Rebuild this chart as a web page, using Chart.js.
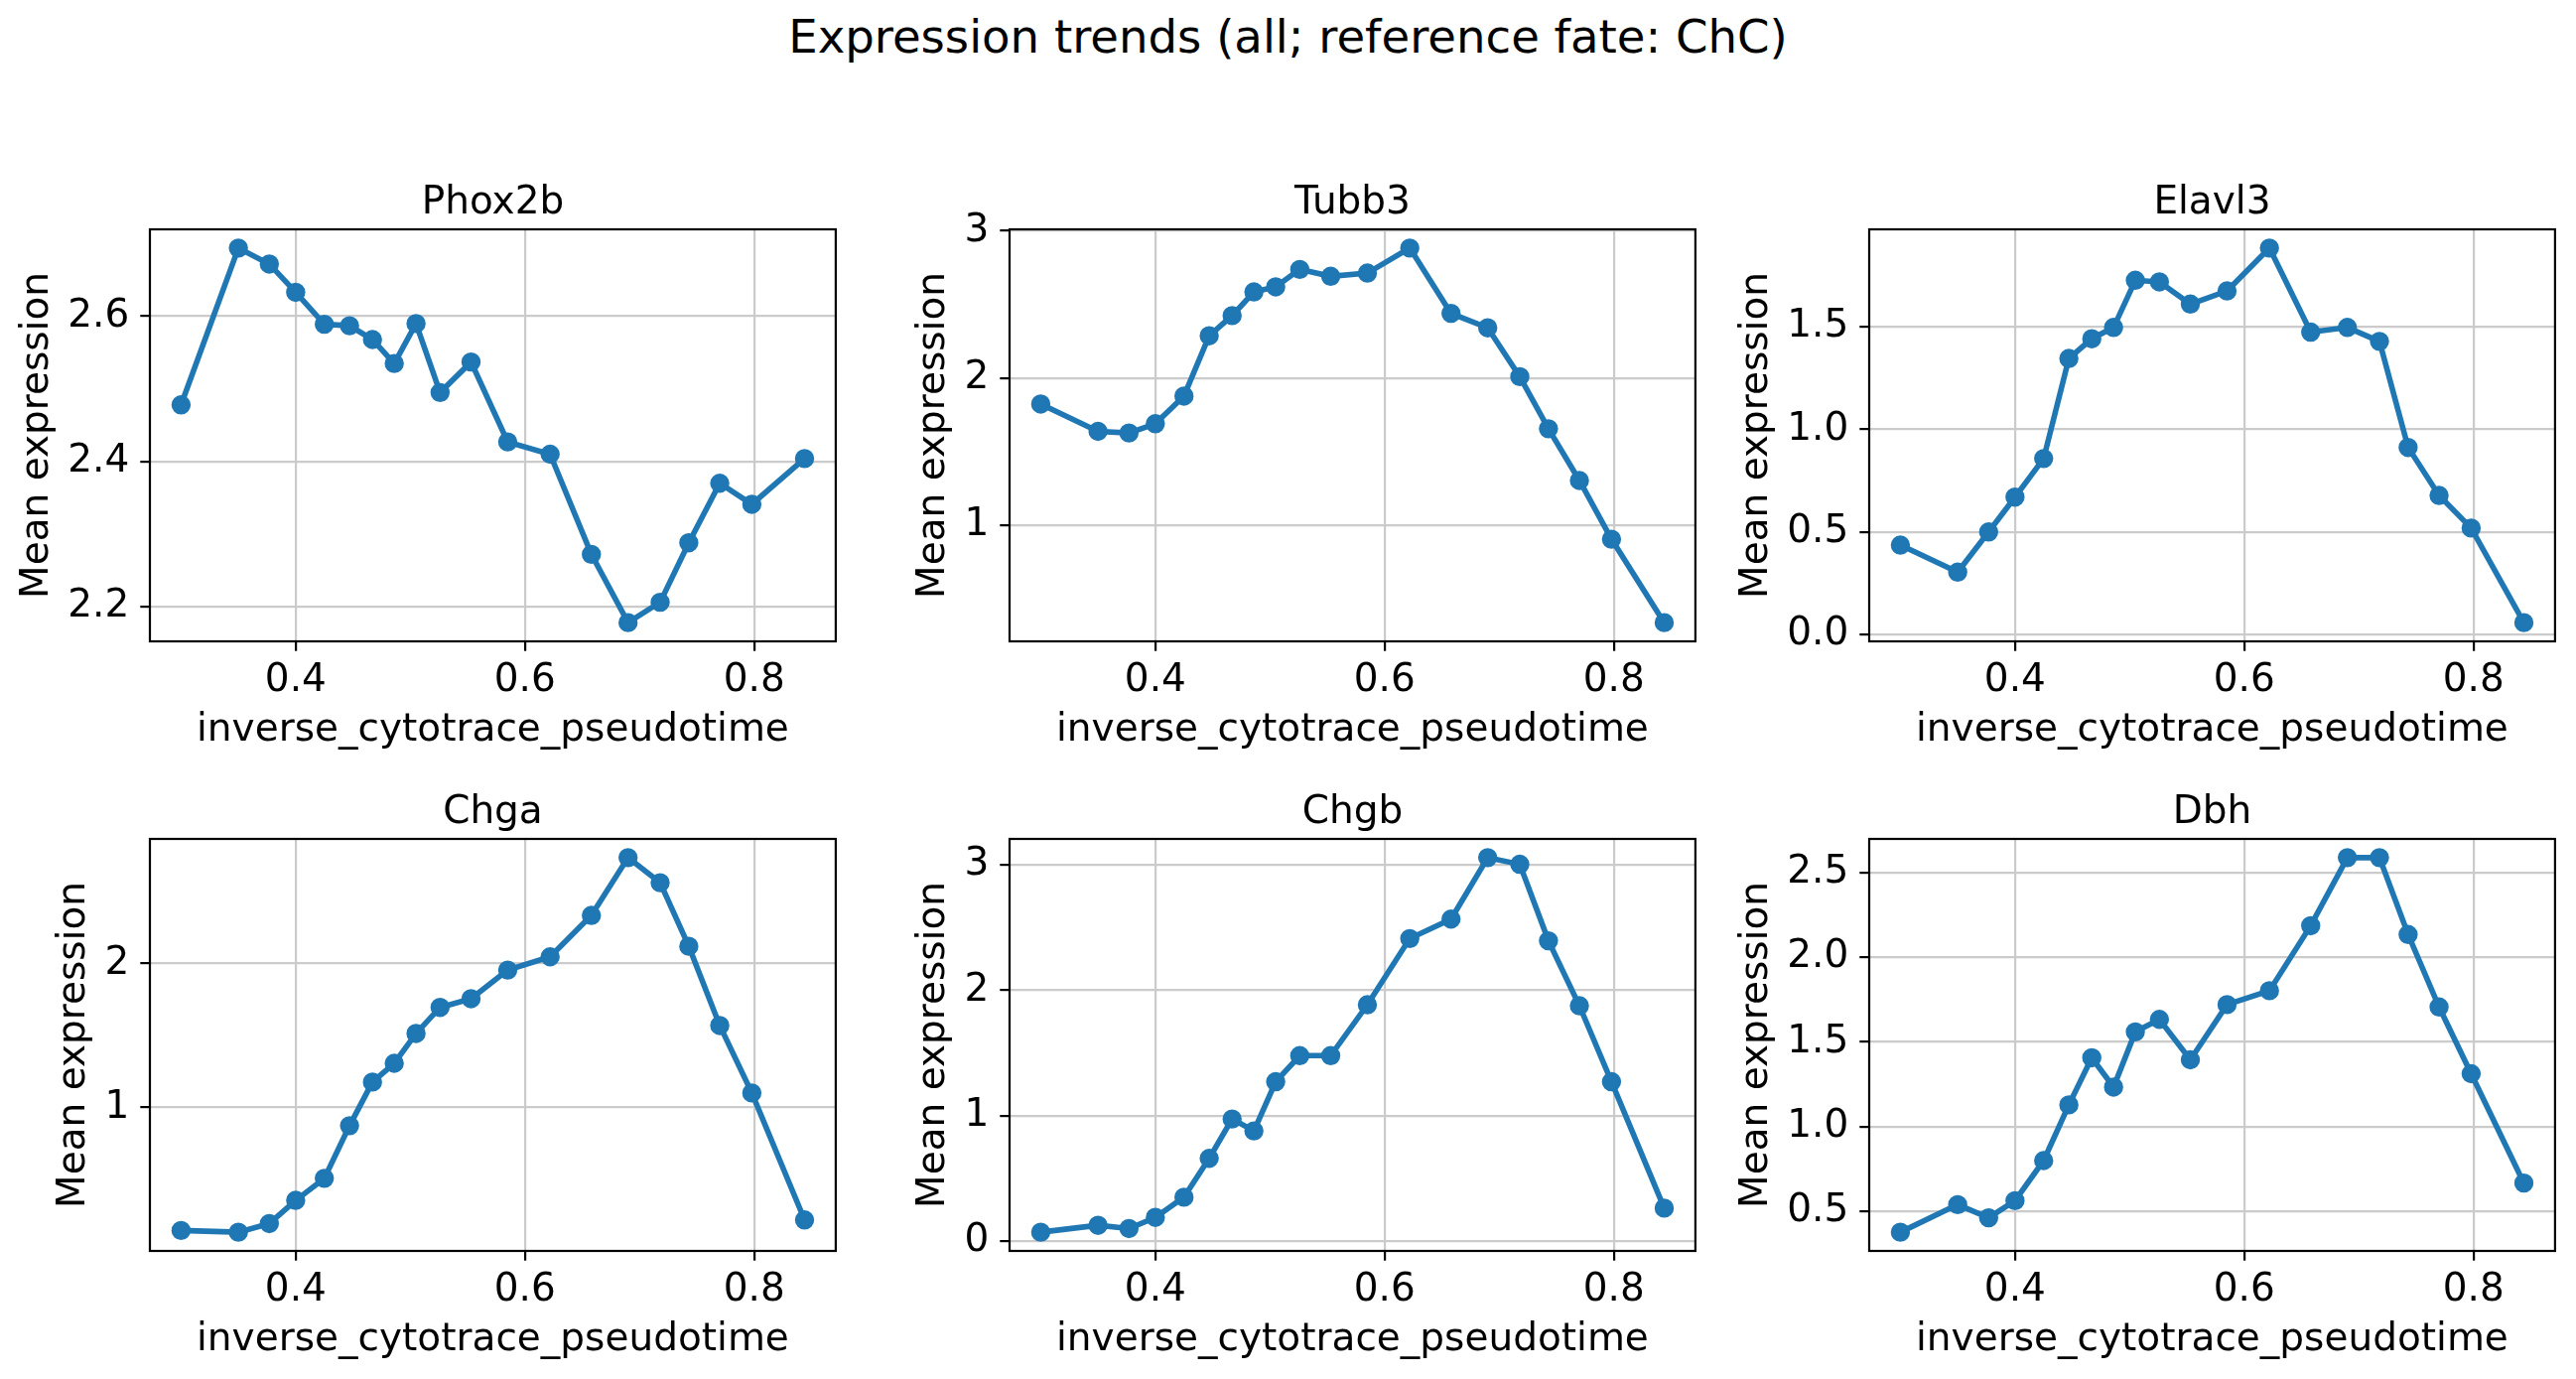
<!DOCTYPE html>
<html>
<head>
<meta charset="utf-8">
<title>Expression trends</title>
<script src="https://cdn.jsdelivr.net/npm/chart.js@4.4.0/dist/chart.umd.min.js"></script>
<style>
  html, body {
    margin: 0;
    padding: 0;
    background: #ffffff;
    width: 2595px;
    height: 1389px;
    overflow: hidden;
    font-family: "DejaVu Sans", sans-serif;
  }
  #suptitle {
    position: absolute;
    left: 0;
    top: 14px;
    width: 2595px;
    text-align: center;
    font-size: 46.6px;
    line-height: 46.6px;
    color: #000;
  }
  canvas {
    position: absolute;
  }
</style>
</head>
<body>
<div id="suptitle">Expression trends (all; reference fate: ChC)</div>

<script>
// Shared x values (pseudotime bins) and x tick labels
const pseudotime = [0.300, 0.350, 0.377, 0.400, 0.425, 0.447, 0.467, 0.486, 0.505, 0.526,
                    0.553, 0.585, 0.622, 0.658, 0.690, 0.718, 0.743, 0.770, 0.798, 0.844];
const xTickLabels = ["0.4", "0.6", "0.8"];

// Mean expression per gene
const phox2b = [2.478, 2.694, 2.672, 2.633, 2.589, 2.587, 2.568, 2.535, 2.590, 2.495,
                2.537, 2.427, 2.410, 2.272, 2.178, 2.206, 2.288, 2.370, 2.341, 2.404];
const tubb3 = [1.823, 1.637, 1.626, 1.689, 1.877, 2.287, 2.424, 2.585, 2.619, 2.738,
               2.691, 2.713, 2.883, 2.439, 2.341, 2.009, 1.655, 1.303, 0.904, 0.337];
const elavl3 = [0.436, 0.304, 0.500, 0.670, 0.858, 1.346, 1.442, 1.497, 1.727, 1.719,
                1.611, 1.675, 1.884, 1.474, 1.497, 1.429, 0.912, 0.678, 0.519, 0.058];
const chga = [0.147, 0.135, 0.195, 0.356, 0.509, 0.874, 1.177, 1.307, 1.514, 1.695,
              1.755, 1.954, 2.046, 2.333, 2.734, 2.560, 2.119, 1.569, 1.101, 0.220];
const chgb = [0.071, 0.126, 0.100, 0.189, 0.350, 0.660, 0.974, 0.879, 1.271, 1.479,
              1.479, 1.885, 2.413, 2.568, 3.058, 3.005, 2.395, 1.877, 1.271, 0.263];
const dbh = [0.376, 0.539, 0.461, 0.562, 0.799, 1.128, 1.406, 1.233, 1.559, 1.633,
             1.394, 1.720, 1.802, 2.186, 2.588, 2.588, 2.134, 1.706, 1.312, 0.666];

// y tick labels per gene
const phox2bTicks = ["2.2", "2.4", "2.6"];
const tubb3Ticks = ["1", "2", "3"];
const elavl3Ticks = ["0.0", "0.5", "1.0", "1.5"];
const chgaTicks = ["1", "2"];
const chgbTicks = ["0", "1", "2", "3"];
const dbhTicks = ["0.5", "1.0", "1.5", "2.0", "2.5"];

// Layout of the 2x3 grid (chart area positions in page pixels)
const colLefts = [151, 1017, 1883];
const rowTops = [231, 845];
const PLOT_W = 692;
const PLOT_H = 415;
const Y_AXIS_W = 151;   // space left of the plot area inside each canvas
const X_AXIS_H = 130;   // space below the plot area
const TITLE_H = 57;     // space above the plot area
const RIGHT_PAD = 10;

const FONT = "DejaVu Sans";
const BLUE = "#1f77b4";

Chart.defaults.font.family = FONT;
Chart.defaults.color = "#000";

const panels = [
  { name: "Phox2b", values: phox2b, ticks: phox2bTicks, row: 0, col: 0 },
  { name: "Tubb3", values: tubb3, ticks: tubb3Ticks, row: 0, col: 1 },
  { name: "Elavl3", values: elavl3, ticks: elavl3Ticks, row: 0, col: 2 },
  { name: "Chga", values: chga, ticks: chgaTicks, row: 1, col: 0 },
  { name: "Chgb", values: chgb, ticks: chgbTicks, row: 1, col: 1 },
  { name: "Dbh", values: dbh, ticks: dbhTicks, row: 1, col: 2 }
];

// Draws the full box around the plot area (matplotlib spines)
const framePlugin = {
  id: "frame",
  afterDraw(chart) {
    const { ctx, chartArea } = chart;
    ctx.save();
    ctx.strokeStyle = "#000";
    ctx.lineWidth = 2.2;
    ctx.strokeRect(chartArea.left, chartArea.top,
                   chartArea.right - chartArea.left, chartArea.bottom - chartArea.top);
    ctx.restore();
  }
};

// autoscale like matplotlib: 5% margin each side
function paddedRange(values) {
  const lo = Math.min(...values);
  const hi = Math.max(...values);
  const m = (hi - lo) * 0.05;
  return [lo - m, hi + m];
}

function createPanel(panel) {
  const canvas = document.createElement("canvas");
  const width = Y_AXIS_W + PLOT_W + RIGHT_PAD;
  const height = TITLE_H + PLOT_H + X_AXIS_H;
  canvas.width = width;
  canvas.height = height;
  canvas.style.left = (colLefts[panel.col] - Y_AXIS_W) + "px";
  canvas.style.top = (rowTops[panel.row] - TITLE_H) + "px";
  document.body.appendChild(canvas);

  const [xMin, xMax] = paddedRange(pseudotime);
  const [yMin, yMax] = paddedRange(panel.values);
  // wider tick labels push the y label further left
  const yTitlePad = panel.ticks[0].length > 1 ? 14 : 51;

  const points = pseudotime.map((x, i) => ({ x: x, y: panel.values[i] }));

  new Chart(canvas.getContext("2d"), {
    type: "line",
    data: {
      datasets: [{
        data: points,
        borderColor: BLUE,
        backgroundColor: BLUE,
        borderWidth: 5.6,
        pointRadius: 8.3,
        pointBorderWidth: 2.8,
        pointBackgroundColor: BLUE,
        pointBorderColor: BLUE,
        tension: 0,
        fill: false,
        clip: false
      }]
    },
    options: {
      responsive: false,
      animation: false,
      layout: { padding: { left: 0, right: RIGHT_PAD, top: 0, bottom: 0 } },
      plugins: {
        legend: { display: false },
        tooltip: { enabled: false },
        title: {
          display: true,
          text: panel.name,
          fullSize: false,
          color: "#000",
          font: { size: 39, weight: "normal", family: FONT, lineHeight: 1.2 },
          padding: { top: 7, bottom: 3.2 }
        }
      },
      scales: {
        x: {
          type: "linear",
          min: xMin,
          max: xMax,
          afterBuildTicks: function (scale) {
            scale.ticks = xTickLabels.map(s => ({ value: parseFloat(s) }));
          },
          afterFit: function (scale) {
            scale.height = X_AXIS_H;
          },
          ticks: {
            callback: (value, index) => xTickLabels[index],
            font: { size: 39, family: FONT },
            color: "#000",
            padding: 7,
            maxRotation: 0
          },
          grid: {
            color: "#cbcbcb",
            lineWidth: 2.2,
            drawTicks: true,
            tickLength: 9.7,
            tickColor: "#000",
            tickWidth: 2.2
          },
          border: { display: false },
          title: {
            display: true,
            text: "inverse_cytotrace_pseudotime",
            color: "#000",
            font: { size: 39, family: FONT, lineHeight: 1.2 },
            padding: { top: 0, bottom: 16.6 }
          }
        },
        y: {
          type: "linear",
          min: yMin,
          max: yMax,
          afterBuildTicks: function (scale) {
            scale.ticks = panel.ticks.map(s => ({ value: parseFloat(s) }));
          },
          afterFit: function (scale) {
            scale.width = Y_AXIS_W;
          },
          ticks: {
            callback: (value, index) => panel.ticks[index],
            font: { size: 39, family: FONT },
            color: "#000",
            padding: 11
          },
          grid: {
            color: "#cbcbcb",
            lineWidth: 2.2,
            drawTicks: true,
            tickLength: 9.7,
            tickColor: "#000",
            tickWidth: 2.2
          },
          border: { display: false },
          title: {
            display: true,
            text: "Mean expression",
            color: "#000",
            font: { size: 39, family: FONT, lineHeight: 1.2 },
            padding: { top: yTitlePad, bottom: 0 }
          }
        }
      }
    },
    plugins: [framePlugin]
  });
}

panels.forEach(createPanel);
</script>
</body>
</html>
